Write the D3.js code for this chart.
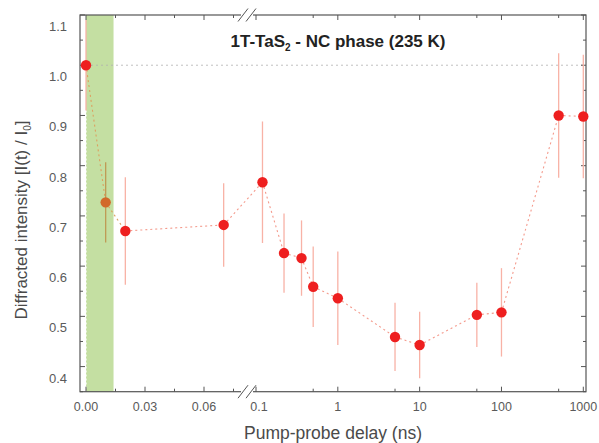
<!DOCTYPE html>
<html>
<head>
<meta charset="utf-8">
<script src="https://cdn.jsdelivr.net/npm/d3@7"></script>
<style>
  body { margin: 0; background: #fff; }
  svg { font-family: "Liberation Sans", Arial, sans-serif; }
</style>
</head>
<body>
<div id="chart"></div>
<script>
// delay in ns, normalised intensity, error (+/-)
const delays = [0, 0.01, 0.02, 0.07, 0.12, 0.22, 0.36, 0.5, 1, 5, 10, 50, 100, 500, 1000];
const intensity = [1.00, 0.727, 0.670, 0.682, 0.767, 0.626, 0.616, 0.559, 0.536, 0.459, 0.443, 0.503, 0.508, 0.900, 0.898];
const errs = [0.09, 0.08, 0.107, 0.083, 0.121, 0.079, 0.075, 0.08, 0.093, 0.068, 0.066, 0.064, 0.088, 0.124, 0.123];
const linTicks = [0, 0.03, 0.06];
const linMinor = [0.015, 0.045, 0.075];
const logTicks = [0.1, 1, 10, 100, 1000];
const logMinor = [0.5, 5, 50, 500];
const yTicks = [0.4, 0.5, 0.6, 0.7, 0.8, 0.9, 1.0, 1.1];
const yMinor = [0.35, 0.45, 0.55, 0.65, 0.75, 0.85, 0.95, 1.05];
const pumpWindow = [0, 0.014];

const width = 599, height = 443;
const frame = {left: 80, right: 586, top: 15, bottom: 391.7};

const svg = d3.select("#chart").append("svg")
  .attr("width", width)
  .attr("height", height);

const xLin = d3.scaleLinear().domain([0, 0.075]).range([86, 233.5]);
const xLog = d3.scaleLog().domain([0.1, 1000]).range([256, 583.3]);
const x = v => v < 0.09 ? xLin(v) : xLog(v);
const y = d3.scaleLinear().domain([0.35, 1.1]).range([frame.bottom, frame.top]);

// green pump window
svg.append("rect")
  .attr("x", xLin(pumpWindow[0]))
  .attr("y", frame.top)
  .attr("width", xLin(pumpWindow[1]) - xLin(pumpWindow[0]))
  .attr("height", frame.bottom - frame.top)
  .attr("fill", "#c4dfa2");

// white dotted line along t=0 inside the band
svg.append("line")
  .attr("x1", xLin(0)).attr("x2", xLin(0))
  .attr("y1", y(intensity[0] - errs[0])).attr("y2", frame.bottom)
  .attr("stroke", "#fff").attr("stroke-width", 1.2)
  .attr("stroke-dasharray", "2,2");

// reference line at the first value
svg.append("line")
  .attr("x1", xLin(0)).attr("x2", frame.right)
  .attr("y1", y(intensity[0])).attr("y2", y(intensity[0]))
  .attr("stroke", "#b0b0b0").attr("stroke-width", 0.8)
  .attr("stroke-dasharray", "2,3");

// frame
svg.append("rect")
  .attr("x", frame.left).attr("y", frame.top)
  .attr("width", frame.right - frame.left)
  .attr("height", frame.bottom - frame.top)
  .attr("fill", "none").attr("stroke", "#555").attr("stroke-width", 1.2);

// ticks (inward) for all four sides
function ticksX(vals, len, yPos, dir) {
  svg.append("g").selectAll("line").data(vals).enter().append("line")
    .attr("x1", d => x(d)).attr("x2", d => x(d))
    .attr("y1", yPos).attr("y2", yPos + dir * len)
    .attr("stroke", "#555").attr("stroke-width", 1);
}
function ticksY(vals, len, xPos, dir) {
  svg.append("g").selectAll("line").data(vals).enter().append("line")
    .attr("y1", d => y(d)).attr("y2", d => y(d))
    .attr("x1", xPos).attr("x2", xPos + dir * len)
    .attr("stroke", "#555").attr("stroke-width", 1);
}
const xMajor = linTicks.concat(logTicks);
const xMinor = linMinor.concat(logMinor);
ticksX(xMajor, 5, frame.bottom, -1);
ticksX(xMinor, 3, frame.bottom, -1);
ticksX(xMajor, 5, frame.top, 1);
ticksX(xMinor, 3, frame.top, 1);
ticksY(yTicks, 5, frame.left, 1);
ticksY(yMinor, 3, frame.left, 1);
ticksY(yTicks, 5, frame.right, -1);
ticksY(yMinor, 3, frame.right, -1);

// axis break marks
[frame.top, frame.bottom].forEach(yy => {
  svg.append("rect").attr("x", 241).attr("y", yy - 2).attr("width", 12).attr("height", 4).attr("fill", "#fff");
  [243, 251].forEach(xx => {
    svg.append("line")
      .attr("x1", xx - 5).attr("y1", yy + 6.5)
      .attr("x2", xx + 5).attr("y2", yy - 6.5)
      .attr("stroke", "#555").attr("stroke-width", 1);
  });
});

// tick labels
const fmtLin = d3.format(".2f");
svg.append("g").selectAll("text").data(linTicks).enter().append("text")
  .attr("x", d => x(d)).attr("y", 411)
  .attr("text-anchor", "middle")
  .attr("font-size", 12.5).attr("fill", "#5a5a5a")
  .text(d => fmtLin(d));
svg.append("g").selectAll("text").data(logTicks).enter().append("text")
  .attr("x", d => x(d) + (d === 0.1 ? 3 : 0)).attr("y", 411)
  .attr("text-anchor", "middle")
  .attr("font-size", 12.5).attr("fill", "#5a5a5a")
  .text(d => String(d));
svg.append("g").selectAll("text").data(yTicks).enter().append("text")
  .attr("x", 67).attr("y", d => y(d) + 16)
  .attr("text-anchor", "end")
  .attr("font-size", 13).attr("fill", "#5a5a5a")
  .text(d => d.toFixed(1));

// axis titles
svg.append("text")
  .attr("x", 333).attr("y", 439)
  .attr("text-anchor", "middle")
  .attr("font-size", 17.5).attr("fill", "#4a4a4a")
  .text("Pump-probe delay (ns)");

const yl = svg.append("text")
  .attr("transform", "translate(27,220) rotate(-90)")
  .attr("text-anchor", "middle")
  .attr("font-size", 17).attr("fill", "#4a4a4a");
yl.append("tspan").text("Diffracted intensity [I(t) / I");
yl.append("tspan").attr("font-size", 10).attr("dy", 4).text("0");
yl.append("tspan").attr("dy", -4).text("]");

// title
const tt = svg.append("text")
  .attr("x", 338).attr("y", 47)
  .attr("text-anchor", "middle")
  .attr("font-size", 17).attr("font-weight", "bold").attr("fill", "#222");
tt.append("tspan").text("1T-TaS");
tt.append("tspan").attr("font-size", 10).attr("dy", 4).text("2");
tt.append("tspan").attr("dy", -4).text(" - NC phase (235 K)");

// connecting dotted line
const pts = delays.map((d, i) => [x(d), y(intensity[i])]);
for (let i = 0; i < pts.length - 1; i++) {
  svg.append("line")
    .attr("x1", pts[i][0]).attr("y1", pts[i][1])
    .attr("x2", pts[i + 1][0]).attr("y2", pts[i + 1][1])
    .attr("stroke", i < 2 ? "#dca060" : "#f49a8c")
    .attr("stroke-width", 1.1)
    .attr("stroke-dasharray", "2,3");
}

// error bars
svg.append("g").selectAll("line").data(delays).enter().append("line")
  .attr("x1", d => x(d)).attr("x2", d => x(d))
  .attr("y1", (d, i) => Math.max(frame.top, y(intensity[i] + errs[i])))
  .attr("y2", (d, i) => y(intensity[i] - errs[i]))
  .attr("stroke", (d, i) => i === 1 ? "#bf9a55" : "#f8b2a6")
  .attr("stroke-width", 1.3);

// points
svg.append("g").selectAll("circle").data(delays).enter().append("circle")
  .attr("cx", d => x(d))
  .attr("cy", (d, i) => y(intensity[i]))
  .attr("r", 5.2)
  .attr("fill", (d, i) => i === 1 ? "#d2692a" : "#ee1f1f");
</script>
</body>
</html>
